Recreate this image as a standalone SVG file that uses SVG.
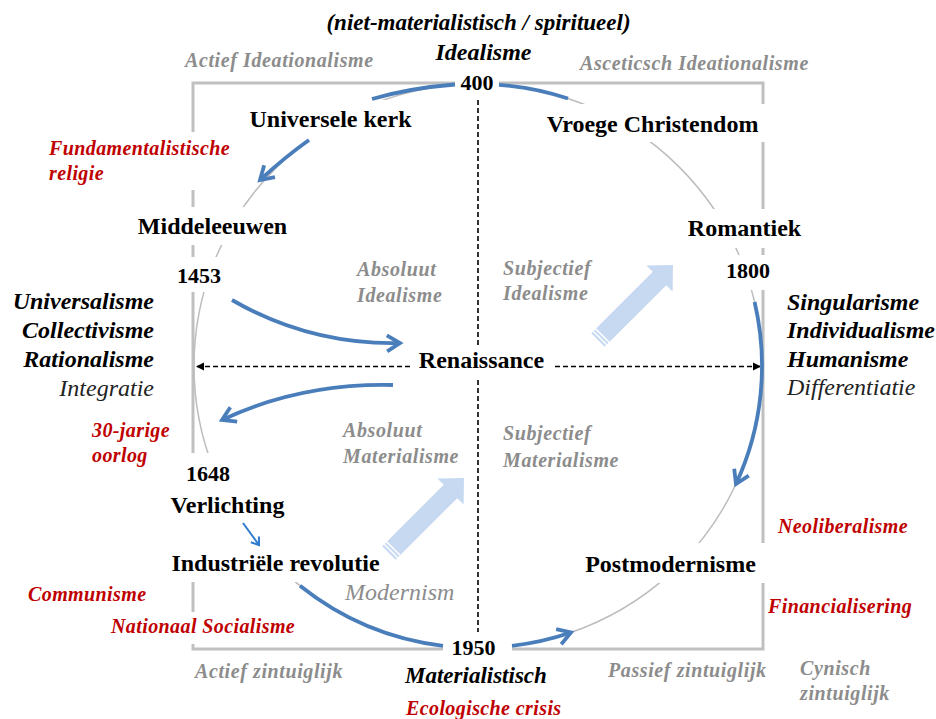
<svg xmlns="http://www.w3.org/2000/svg" width="936" height="719" viewBox="0 0 936 719">
<style>
text{font-family:"Liberation Serif","Times New Roman",serif}
.n{font-weight:bold;font-size:24px;fill:#000;text-anchor:middle}
.y{font-weight:bold;font-size:22px;fill:#000;text-anchor:middle}
.g{font-weight:bold;font-style:italic;font-size:20px;fill:#8c8c8c;letter-spacing:0.6px}
.r{font-weight:bold;font-style:italic;font-size:20px;fill:#c00000;letter-spacing:0.4px}
.bi{font-weight:bold;font-style:italic;font-size:24px;fill:#000}
.it{font-style:italic;font-size:24px;fill:#222}
.bg{fill:#fff}
.blue{fill:none;stroke:#4a7ebb;stroke-width:3.8}
.dash{fill:none;stroke:#000;stroke-width:1.6;stroke-dasharray:5 3}
.big{fill:#c6d9f1}
</style>
<defs>
<marker id="ah" markerUnits="userSpaceOnUse" viewBox="-16 -11 18 22" refX="0" refY="0" markerWidth="18" markerHeight="22" orient="auto" overflow="visible"><path d="M-13,-8 L0,0 L-13,8" fill="none" stroke="#4a7ebb" stroke-width="3.8"/></marker>
<marker id="ah2" markerUnits="userSpaceOnUse" viewBox="-9 -7 10 14" refX="0" refY="0" markerWidth="10" markerHeight="14" orient="auto" overflow="visible"><path d="M-7,-5 L0,0 L-7,5" fill="none" stroke="#2e7bcf" stroke-width="2"/></marker>
<marker id="dt" markerUnits="userSpaceOnUse" viewBox="-9 -5 10 10" refX="0" refY="0" markerWidth="10" markerHeight="10" orient="auto" overflow="visible"><path d="M-8,-4 L0,0 L-8,4 Z" fill="#000"/></marker>
<g id="striped">
<rect class="big" x="0" y="-9.5" width="2" height="19"/>
<rect class="big" x="3.5" y="-9.5" width="2" height="19"/>
<polygon class="big" points="7,-9.5 87,-9.5 87,-18.5 106,0 87,18.5 87,9.5 7,9.5"/>
</g>
</defs>
<rect width="936" height="719" fill="#fff"/>
<g id="frame">
<rect x="193" y="83" width="570" height="566" fill="none" stroke="#c0c0c0" stroke-width="3"/>
<ellipse cx="478" cy="366" rx="284" ry="282" fill="none" stroke="#bdbdbd" stroke-width="1.5"/>
</g>
<g id="labels">
<text class="bi" x="478.5" y="30" font-size="23" text-anchor="middle" style="font-size:23px">(niet-materialistisch / spiritueel)</text>
<text class="bi" x="483.5" y="60" text-anchor="middle">Idealisme</text>
<text class="g" x="185" y="67">Actief Ideationalisme</text>
<text class="g" x="580" y="70">Asceticsch Ideationalisme</text>
<text class="g" x="357" y="276">Absoluut</text>
<text class="g" x="357" y="302">Idealisme</text>
<text class="g" x="503" y="275">Subjectief</text>
<text class="g" x="503" y="300">Idealisme</text>
<text class="g" x="343" y="437">Absoluut</text>
<text class="g" x="343" y="463">Materialisme</text>
<text class="g" x="503" y="440">Subjectief</text>
<text class="g" x="503" y="467">Materialisme</text>
<text class="g" x="195" y="678">Actief zintuiglijk</text>
<text class="g" x="608" y="677">Passief zintuiglijk</text>
<text class="g" x="800" y="675">Cynisch</text>
<text class="g" x="800" y="700">zintuiglijk</text>
<text class="it" x="345" y="600" fill="#8c8c8c" style="fill:#8c8c8c">Modernism</text>
<text class="bi" x="154" y="309" text-anchor="end">Universalisme</text>
<text class="bi" x="154" y="338" text-anchor="end">Collectivisme</text>
<text class="bi" x="154" y="367" text-anchor="end">Rationalisme</text>
<text class="it" x="154" y="396" text-anchor="end">Integratie</text>
<text class="bi" x="787" y="310">Singularisme</text>
<text class="bi" x="787" y="338">Individualisme</text>
<text class="bi" x="787" y="367">Humanisme</text>
<text class="it" x="787" y="395">Differentiatie</text>
<text class="bi" x="405" y="683" style="font-size:23px">Materialistisch</text>
<text class="r" x="92" y="437">30-jarige</text>
<text class="r" x="92" y="462">oorlog</text>
<text class="r" x="778" y="533">Neoliberalisme</text>
<text class="r" x="28" y="601">Communisme</text>
<text class="r" x="768" y="613">Financialisering</text>
<text class="r" x="406" y="715">Ecologische crisis</text>
</g>
<g id="fundamentalistische">
<rect class="bg" x="44" y="132" width="196" height="58"/>
<text class="r" x="49" y="155">Fundamentalistische</text>
<text class="r" x="49" y="180">religie</text>
</g>
<g id="nationaal-socialisme">
<rect class="bg" x="108" y="612" width="195" height="32"/>
<text class="r" x="111" y="633">Nationaal Socialisme</text>
</g>
<g id="y400"><rect class="bg" x="455" y="72" width="44" height="22"/><text class="y" x="477" y="90">400</text></g>
<g id="universele-kerk"><rect class="bg" x="245" y="100" width="171" height="40"/><text class="n" x="330.5" y="127">Universele kerk</text></g>
<g id="vroege-christendom"><rect class="bg" x="543" y="104" width="223" height="38"/><text class="n" x="652.5" y="132">Vroege Christendom</text></g>
<g id="middeleeuwen"><rect class="bg" x="130" y="207" width="165" height="38"/><text class="n" x="212.5" y="234">Middeleeuwen</text></g>
<g id="romantiek"><rect class="bg" x="684" y="209" width="82" height="39"/><text class="n" x="744.5" y="236">Romantiek</text></g>
<g id="y1453"><rect class="bg" x="172" y="257" width="56" height="35"/><text class="y" x="199" y="283">1453</text></g>
<g id="y1800"><rect class="bg" x="722" y="255" width="50" height="35"/><text class="y" x="748" y="278">1800</text></g>
<g id="renaissance"><rect class="bg" x="412" y="348" width="142" height="30"/><text class="n" x="481.5" y="368">Renaissance</text></g>
<g id="y1648"><rect class="bg" x="165" y="453" width="135" height="35"/><text class="y" x="208" y="481">1648</text></g>
<g id="verlichting"><rect class="bg" x="165" y="488" width="135" height="60"/><text class="n" x="227.5" y="513">Verlichting</text></g>
<g id="industriele-revolutie"><rect class="bg" x="165" y="548" width="220" height="34"/><text class="n" x="275.5" y="571">Industriële revolutie</text></g>
<g id="postmodernisme"><rect class="bg" x="583" y="543" width="185" height="40"/><text class="n" x="670.5" y="572">Postmodernisme</text></g>
<g id="y1950"><rect class="bg" x="443" y="638" width="69" height="24"/><text class="y" x="473.5" y="655">1950</text></g>
<g id="connectors">
<path class="dash" d="M478,100 V348"/>
<path class="dash" d="M478,380 V632"/>
<path class="dash" d="M410,366.5 H196" marker-end="url(#dt)"/>
<path class="dash" d="M555,366.5 H761" marker-end="url(#dt)"/>
<path class="blue" d="M455,84.5 Q410,88 372,99"/>
<path class="blue" d="M309,140 Q285,157 260,180" marker-end="url(#ah)"/>
<path class="blue" d="M499,84.8 A284,282 0 0 1 568,98.5"/>
<path class="blue" d="M754.6,302 A284,282 0 0 1 736,484" marker-end="url(#ah)"/>
<path class="blue" d="M300,585.7 A284,282 0 0 0 443,645.8"/>
<path class="blue" d="M512,645.8 A284,282 0 0 0 571,632.5" marker-end="url(#ah)"/>
<path class="blue" d="M232,300 Q310,345 400,343" marker-end="url(#ah)"/>
<path class="blue" d="M393,385 Q300,383 222,420" marker-end="url(#ah)"/>
<path d="M243,523 L259,545" fill="none" stroke="#2e7bcf" stroke-width="2" marker-end="url(#ah2)"/>
<use href="#striped" transform="translate(598,340) rotate(-45)"/>
<use href="#striped" transform="translate(389,553) rotate(-45)"/>
</g>
</svg>
